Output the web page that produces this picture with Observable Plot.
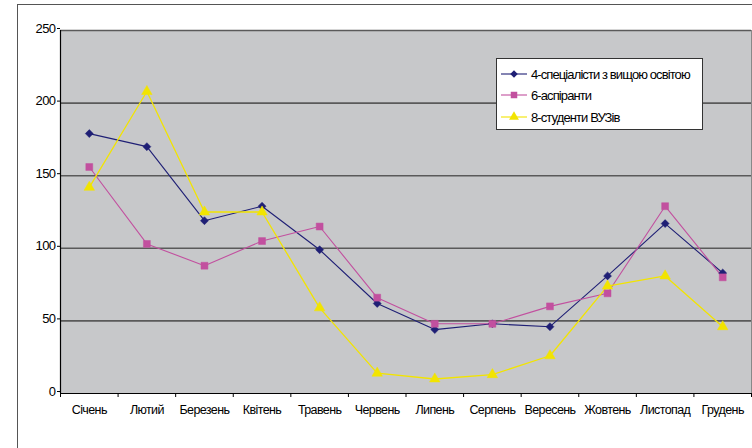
<!DOCTYPE html>
<html>
<head>
<meta charset="utf-8">
<script src="https://cdn.jsdelivr.net/npm/d3@7"></script>
<script src="https://cdn.jsdelivr.net/npm/@observablehq/plot@0.6"></script>
<style>
  html, body { margin: 0; padding: 0; background: #fff; }
  #wrap { position: relative; width: 752px; height: 448px; overflow: hidden; font-family: "Liberation Sans", Arial, sans-serif; }
  #outer { position: absolute; left: 17px; top: 4px; width: 900px; height: 600px; border: 1.5px solid #555; box-sizing: border-box; }
  #chart { position: absolute; left: 0; top: 0; }
  #legend { position: absolute; left: 496px; top: 58px; width: 207px; height: 72px; background: #fff; border: 1px solid #333; box-sizing: border-box; overflow: hidden; }
  .row { position: absolute; left: 3px; height: 18px; display: flex; align-items: center; white-space: nowrap; font-size: 13px; letter-spacing: -0.9px; color: #000; }
  .row svg { flex: none; margin-right: 3px; }
</style>
</head>
<body>
<div id="wrap">
  <div id="outer"></div>
  <div id="chart"></div>
  <div id="legend"></div>
</div>
<script>
const months = ["Січень","Лютий","Березень","Квітень","Травень","Червень","Липень","Серпень","Вересень","Жовтень","Листопад","Грудень"];
const seriesNames = ["4-спеціалісти з вищою освітою", "6-аспіранти", "8-студенти ВУЗів"];
const specialists = [179, 170, 119, 129, 99, 62, 44, 48, 46, 81, 117, 83];
const postgrads   = [156, 103, 88, 105, 115, 66, 48, 48, 60, 69, 129, 80];
const students    = [142, 208, 125, 125, 59, 14, 10, 13, 26, 74, 81, 46];
const yTicks = [0, 50, 100, 150, 200, 250];

const colors = ["#1f1f75", "#c2509f", "#f2e400"];
const symbols = ["diamond2", "square", "triangle"];
const radii = [3.6, 3.9, 3.9];
const seriesValues = [specialists, postgrads, students];

const data = [];
seriesValues.forEach((vals, s) => vals.forEach((v, i) => data.push({series: seriesNames[s], s, i, v})));
const idx = months.map((_, i) => i);
const bounds = d3.range(months.length + 1).map(i => i - 0.5);

const marks = [
  Plot.frame({fill: "#c7c8ca", stroke: "#888", strokeWidth: 1}),
  Plot.ruleY(yTicks.filter(t => t > 0), {stroke: "#5a5a5a", strokeWidth: 1.6}),
  Plot.axisY({ticks: yTicks, tickSize: 3, tickPadding: 2, tickFormat: d => String(d), fontSize: 13, dy: -2, stroke: "#000", label: null}),
  Plot.axisX({ticks: bounds, tickSize: 4, tickFormat: () => "", stroke: "#000", label: null}),
  Plot.axisX({ticks: idx, tickSize: 0, tickPadding: 12, tickFormat: i => months[i], fontSize: 12.5, label: null}),
  Plot.ruleY([0], {stroke: "#000", strokeWidth: 1.2}),
  Plot.ruleX([bounds[0]], {stroke: "#000", strokeWidth: 1.2})
];
[0, 1, 2].forEach(s => {
  const d = data.filter(r => r.s === s);
  marks.push(Plot.line(d, {x: "i", y: "v", stroke: colors[s], strokeWidth: s === 2 ? 1.3 : 1.1}));
});
[0, 1, 2].forEach(s => {
  const d = data.filter(r => r.s === s);
  marks.push(Plot.dot(d, {x: "i", y: "v", symbol: () => symbols[s], fill: colors[s], stroke: colors[s], strokeWidth: 0.5, r: radii[s]}));
});

const chart = Plot.plot({
  width: 752,
  height: 448,
  marginLeft: 60,
  marginRight: 1,
  marginTop: 30,
  marginBottom: 55,
  style: {fontFamily: "'Liberation Sans', Arial, sans-serif", fontSize: "13px", background: "transparent", letterSpacing: "-0.6px", color: "#000"},
  x: {type: "linear", domain: [bounds[0], bounds[bounds.length - 1]], axis: null, label: null},
  y: {domain: [0, 250], axis: null, label: null},
  symbol: {type: "identity"},
  marks
});
document.getElementById("chart").appendChild(chart);

// legend
const legend = document.getElementById("legend");
const rowTops = [6, 27, 49];
seriesNames.forEach((name, s) => {
  const row = document.createElement("div");
  row.className = "row";
  row.style.top = rowTops[s] + "px";
  const sym = d3.create("svg").attr("width", 28).attr("height", 16);
  sym.append("line").attr("x1", 1).attr("x2", 27).attr("y1", 8).attr("y2", 8).attr("stroke", colors[s]).attr("stroke-width", 1.1);
  const path = d3.symbol(s === 0 ? d3.symbolDiamond2 : s === 1 ? d3.symbolSquare : d3.symbolTriangle, s === 0 ? 36 : 42)();
  sym.append("path").attr("d", path).attr("transform", "translate(14,8)").attr("fill", colors[s]);
  row.appendChild(sym.node());
  const t = document.createElement("span");
  t.textContent = name;
  row.appendChild(t);
  legend.appendChild(row);
});
</script>
</body>
</html>
